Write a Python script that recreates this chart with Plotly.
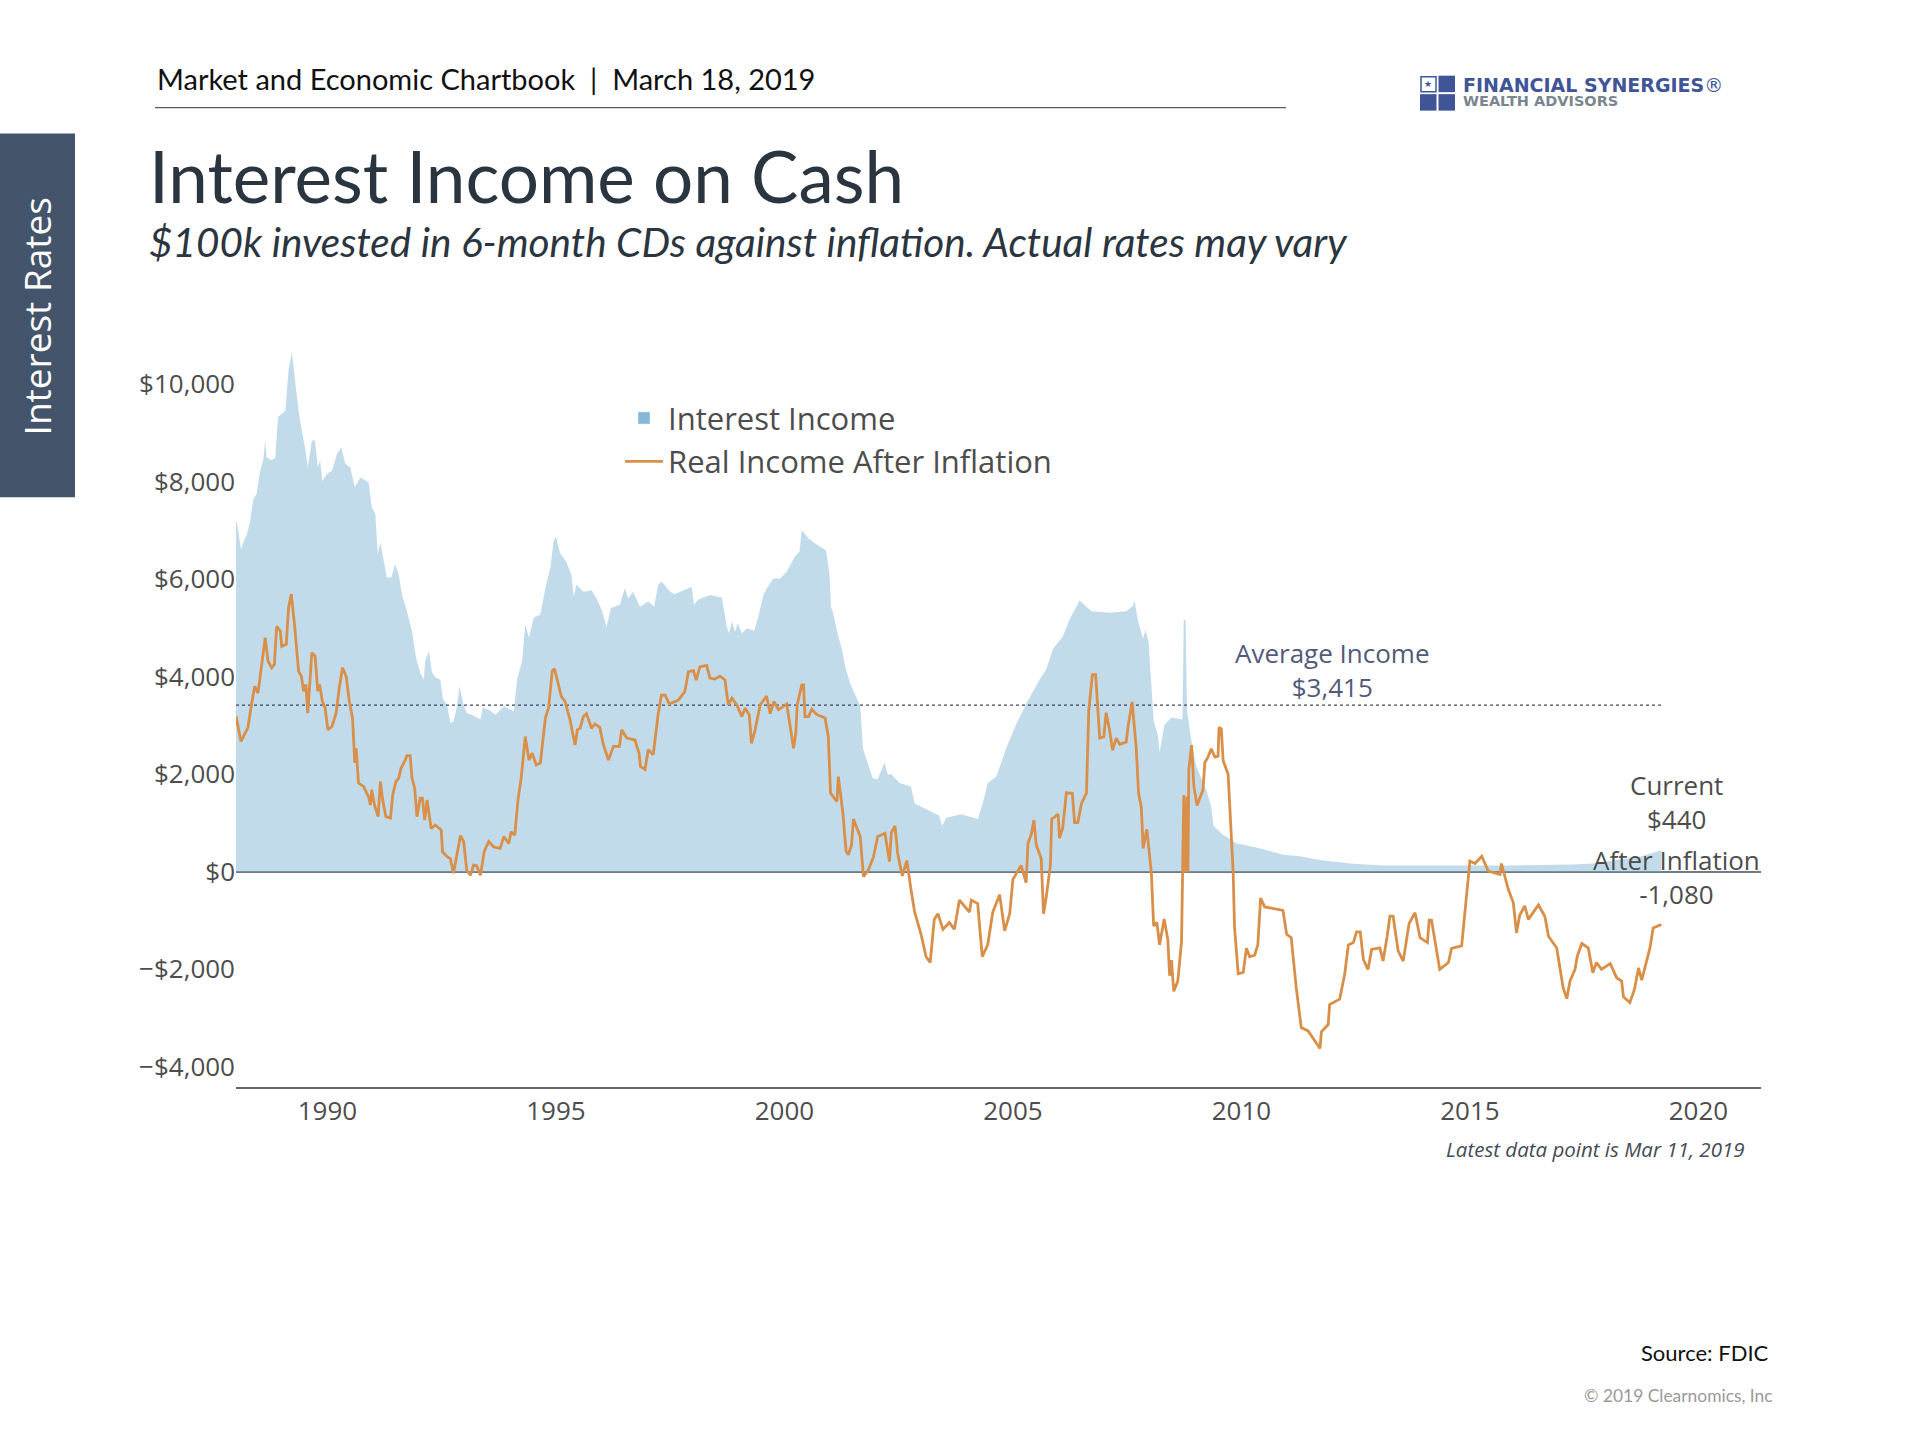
import plotly.graph_objects as go

# ---------- data ----------
income_years = [1988.0,1988.02,1988.11,1988.17,1988.24,1988.31,1988.38,1988.45,1988.53,1988.6,1988.64,1988.67,1988.78,1988.86,1988.92,1989.0,1989.08,1989.15,1989.22,1989.3,1989.37,1989.44,1989.51,1989.57,1989.66,1989.73,1989.79,1989.84,1989.89,1989.99,1990.1,1990.21,1990.3,1990.39,1990.5,1990.6,1990.72,1990.9,1990.97,1991.05,1991.1,1991.16,1991.23,1991.3,1991.4,1991.48,1991.56,1991.63,1991.74,1991.85,1991.94,1992.03,1992.11,1992.14,1992.22,1992.29,1992.38,1992.47,1992.53,1992.62,1992.69,1992.76,1992.84,1992.89,1992.98,1993.05,1993.16,1993.35,1993.4,1993.53,1993.68,1993.86,1994.08,1994.15,1994.26,1994.33,1994.41,1994.52,1994.66,1994.77,1994.88,1994.95,1995.0,
 1995.09,1995.23,1995.34,1995.39,1995.45,1995.6,1995.78,1995.89,1996.0,1996.11,1996.2,1996.4,1996.51,1996.58,1996.69,1996.84,1997.02,1997.15,1997.24,1997.31,1997.5,1997.6,1997.79,1997.97,1998.02,1998.12,1998.37,1998.63,1998.74,1998.79,1998.85,1998.92,1998.98,1999.07,1999.18,1999.34,1999.43,1999.54,1999.65,1999.76,1999.91,2000.05,2000.23,2000.33,2000.38,2000.53,2000.71,2000.91,2000.99,2001.02,2001.07,2001.16,2001.26,2001.33,2001.44,2001.55,2001.66,
 2001.72,2001.86,2001.93,2002.04,2002.19,2002.26,2002.34,2002.52,2002.77,2002.85,2003.18,2003.39,2003.45,2003.54,2003.87,2004.23,2004.34,2004.45,2004.64,2004.85,2005.07,2005.29,2005.58,2005.73,2005.88,2006.09,2006.24,2006.46,2006.72,2007.12,2007.48,2007.63,2007.66,2007.74,2007.85,2007.9,2007.97,2008.03,2008.08,2008.17,2008.21,2008.32,2008.47,2008.71,2008.74,2008.78,2008.81,2008.91,2009.01,2009.23,2009.34,2009.39,2009.6,2009.89,2010.4,2010.91,2011.28,2011.72,2012.37,2013.1,2014.93,2015.95,2017.26,2017.7,2018.28,2018.72,2019.19]
income_values = [7190,7160,6610,6780,6920,7190,7640,7740,8220,8460,8840,8490,8430,8490,9320,9380,9450,10280,10650,10000,9450,9040,8700,8290,8840,8840,8290,8430,8010,8150,8220,8560,8700,8360,8290,7880,8080,7980,7470,7330,6510,6750,6370,6030,6030,6300,6100,5690,5340,4930,4380,4080,3940,4320,4520,4080,3970,3940,3530,3420,3050,3080,3420,3800,3420,3250,3220,3120,3360,3320,3220,3390,3290,3940,4320,5070,4800,5210,5270,5820,6230,6780,6870,
 6530,6350,6080,5640,5880,5740,5770,5600,5370,5020,5400,5470,5810,5600,5740,5430,5540,5430,5880,5950,5740,5690,5770,5840,5470,5580,5670,5620,5020,4890,5130,4920,5090,4890,4990,4940,5230,5670,5860,6010,6010,6150,6460,6560,7000,6830,6700,6590,6050,5430,5300,4890,4550,4200,3860,3620,3390,
 2520,2100,1920,1890,2240,2000,2000,1820,1750,1400,1255,1150,940,1110,1180,1080,1400,1820,1960,2520,3020,3440,3930,4150,4570,4820,5170,5560,5340,5310,5340,5450,5560,5130,4780,4960,4710,3860,3090,2810,2450,3020,3160,3120,5200,5130,3300,2660,2170,1680,1330,940,760,585,480,350,320,240,170,130,130,130,150,170,250,310,440]

real_years = [1988.0,1988.05,1988.11,1988.2,1988.26,1988.35,1988.41,1988.48,1988.55,1988.64,1988.7,1988.78,1988.84,1988.89,1988.97,1989.0,1989.1,1989.15,1989.21,1989.28,1989.37,1989.43,1989.48,1989.53,1989.57,1989.62,1989.66,1989.73,1989.79,1989.83,1989.89,1989.95,1990.01,1990.1,1990.19,1990.26,1990.33,1990.41,1990.48,1990.55,1990.6,1990.63,1990.68,1990.79,1990.9,1990.94,1990.97,1991.03,1991.11,1991.16,1991.21,1991.28,1991.38,1991.43,1991.5,1991.56,1991.61,1991.69,1991.74,1991.81,1991.85,1991.91,1991.96,1992.03,1992.08,1992.13,1992.18,1992.27,1992.36,1992.49,1992.52,1992.62,1992.69,1992.76,1992.84,1992.91,1992.98,1993.05,1993.13,1993.2,1993.27,1993.35,1993.43,1993.53,1993.64,1993.78,1993.86,1993.97,1994.02,1994.1,1994.17,1994.24,1994.33,1994.41,1994.48,1994.57,1994.66,1994.77,1994.84,1994.92,1994.97,
 1995.05,1995.12,1995.2,1995.31,1995.36,1995.42,1995.47,1995.53,1995.6,1995.67,1995.78,1995.85,1995.96,1996.04,1996.15,1996.26,1996.39,1996.44,1996.55,1996.73,1996.82,1996.85,1996.95,1997.02,1997.13,1997.24,1997.31,1997.39,1997.48,1997.68,1997.82,1997.9,1998.01,1998.07,1998.15,1998.3,1998.37,1998.48,1998.59,1998.7,1998.77,1998.85,1998.96,1999.07,1999.14,1999.23,1999.28,1999.36,1999.47,1999.61,1999.69,1999.77,1999.87,2000.05,2000.11,2000.2,2000.25,2000.28,2000.38,2000.42,2000.45,2000.53,2000.6,2000.71,2000.89,2000.96,2001.01,2001.15,2001.18,2001.28,2001.35,2001.4,2001.47,2001.51,2001.66,2001.73,2001.84,2001.95,2002.04,2002.2,2002.3,
 2002.34,2002.42,2002.48,2002.58,2002.68,2002.77,2002.85,2002.99,2003.1,2003.19,2003.28,2003.36,2003.47,2003.61,2003.72,2003.83,2004.05,2004.09,2004.23,2004.28,2004.33,2004.45,2004.56,2004.71,2004.82,2004.93,2005.0,2005.18,2005.29,2005.33,2005.4,2005.46,2005.51,2005.62,2005.67,2005.73,2005.82,2005.85,2005.99,2006.02,2006.09,2006.17,2006.3,2006.35,2006.42,2006.5,2006.61,2006.66,2006.74,2006.81,2006.9,2006.99,2007.04,2007.12,2007.18,2007.26,2007.34,2007.48,2007.52,2007.61,2007.7,2007.75,2007.81,2007.85,2007.93,2008.03,2008.08,2008.15,2008.21,2008.31,2008.39,2008.43,2008.47,2008.52,2008.61,2008.69,2008.74,2008.77,2008.81,2008.83,2008.85,2008.91,2008.96,2009.03,2009.16,2009.2,2009.27,2009.34,2009.42,2009.49,2009.51,2009.56,2009.6,2009.71,2009.77,2009.82,2009.85,2009.93,2010.04,2010.11,2010.18,2010.29,2010.36,2010.42,2010.51,2010.91,2010.99,2011.09,2011.2,2011.31,2011.46,2011.61,2011.72,2011.75,2011.9,2011.93,2012.15,2012.26,2012.34,
 2012.45,2012.52,2012.6,2012.67,2012.77,2012.85,2013.03,2013.1,2013.19,2013.25,2013.32,2013.43,2013.54,2013.61,2013.67,2013.8,2013.91,2014.07,2014.11,2014.16,2014.23,2014.34,2014.53,2014.6,2014.82,2014.91,2015.0,2015.11,2015.26,2015.4,2015.66,2015.69,2015.84,2015.95,2016.02,2016.09,2016.2,2016.28,2016.5,2016.64,2016.72,2016.9,2016.97,2017.04,2017.12,2017.19,2017.3,2017.35,2017.45,2017.59,2017.69,2017.77,2017.88,2018.07,2018.21,2018.32,2018.36,2018.5,2018.6,2018.69,2018.76,2018.87,2018.94,2019.01,2019.19]
real_values = [3185,2910,2670,2840,2950,3490,3800,3660,4180,4800,4320,4180,4250,5030,4930,4620,4660,5410,5690,5070,4110,4010,3700,3840,3250,3970,4490,4420,3700,3840,3490,3360,2910,2980,3250,3770,4180,4010,3490,3150,2230,2530,1820,1750,1540,1370,1680,1370,1130,1850,1470,1130,1100,1580,1850,1920,2120,2260,2380,2380,1920,1710,1130,1510,1510,1060,1470,890,960,860,410,310,270,-30,340,740,620,30,-70,140,120,-70,410,620,510,480,720,580,820,750,1470,1920,2770,2290,2430,2190,2230,3150,3360,4110,4160,
 3830,3590,3490,3110,2870,2600,2910,2940,3180,3240,2940,3030,2960,2600,2290,2570,2570,2910,2740,2700,2430,2160,2100,2500,2400,3250,3620,3620,3440,3520,3690,4100,4120,3930,4200,4230,3970,3950,4010,3930,3420,3560,3420,3180,3350,3220,2630,2910,3420,3600,3240,3490,3320,3440,3080,2530,2840,3420,3830,3830,3180,3180,3330,3220,3150,2770,1610,1440,1950,1200,420,350,550,1080,720,-100,40,310,720,790,210,
 800,940,370,-85,230,-370,-825,-1280,-1740,-1860,-970,-860,-1180,-1040,-1180,-580,-825,-580,-650,-1210,-1740,-1490,-825,-470,-1210,-860,-155,130,-225,585,760,1060,550,270,-860,-510,130,1080,1180,690,900,1620,1610,1010,1010,1400,1610,3300,4040,4040,2740,2770,3260,2880,2490,2740,2610,2660,2980,3480,2520,1610,1325,480,870,-15,-1110,-1035,-1495,-965,-1390,-2130,-1810,-2450,-2235,-1425,1570,-15,1540,-15,2100,2595,1750,1360,1680,2240,2350,2520,2350,2370,2960,2930,2280,2000,900,-15,-1140,-2090,-2060,-1565,-1740,-1710,-1495,-540,-720,-790,-1280,-1350,-2375,-3190,-3260,-3470,-3620,-3280,-3130,-2720,-2610,-2100,-1500,
 -1450,-1230,-1230,-1800,-2000,-1590,-1560,-1830,-1320,-910,-910,-1620,-1830,-1390,-1060,-840,-1350,-1450,-990,-990,-1390,-2000,-1860,-1570,-1520,-635,220,170,320,15,-55,170,-360,-635,-1250,-890,-700,-975,-680,-910,-1320,-1560,-1930,-2375,-2600,-2240,-2000,-1730,-1470,-1560,-2070,-1860,-2000,-1880,-2170,-2240,-2560,-2680,-2410,-1970,-2220,-1830,-1560,-1150,-1080]

average_years = [1988.0, 2019.19]
average_values = [3415, 3415]

series_names = ["Interest Income", "Real Income After Inflation"]
x_tick_start, x_tick_step = 1990, 5
y_tick_step = 2000

# ---------- page geometry (pixels of the 1920x1440 page) ----------
W, H = 1920, 1440
PL, PR, PT, PB = 236, 1761, 334.6, 1087.4


def px(x):
    return (x - PL) / (PR - PL)


def py(y):
    return (PB - y) / (PB - PT)


fig = go.Figure()
# legend-only swatch for the bar-like area
fig.add_trace(go.Bar(x=[None], y=[None], name=series_names[0], marker_color="#85b8d6",
                     legendgroup="a"))
fig.add_trace(go.Scatter(x=income_years, y=income_values, name=series_names[0], mode="lines",
                         line=dict(width=0), fill="tozeroy",
                         fillcolor="rgba(133,184,214,0.5)", showlegend=False,
                         legendgroup="a", hoverinfo="skip"))
fig.add_trace(go.Scatter(x=average_years, y=average_values, mode="lines", showlegend=False,
                         line=dict(color="#3f4468", width=1.2, dash="3px,3px"), name="Average Income"))
fig.add_trace(go.Scatter(x=real_years, y=real_values, name=series_names[1], mode="lines",
                         line=dict(color="#d98f48", width=2.8), legendgroup="b"))

FONT = "Open Sans"
TXT = "#4d4d4d"

annots = [
    dict(xref="paper", yref="paper", x=px(155), y=py(77.5), text="Market and Economic Chartbook&nbsp;&nbsp;|&nbsp;&nbsp;March 18, 2019",
         xanchor="left", yanchor="middle", font=dict(family="Lato", size=29, color="#111111")),
    dict(xref="paper", yref="paper", x=px(146.5), y=py(174.5), text="Interest Income on Cash",
         xanchor="left", yanchor="middle", font=dict(family="Lato", size=71, color="#2b3540")),
    dict(xref="paper", yref="paper", x=px(147), y=py(240.5), text="<i>$100k invested in 6-month CDs against inflation. Actual rates may vary</i>",
         xanchor="left", yanchor="middle", font=dict(family="Lato", size=40.5, color="#2b3540")),
    dict(xref="paper", yref="paper", x=px(36), y=py(316), text="Interest Rates", textangle=-90,
         xanchor="center", yanchor="middle", font=dict(family=FONT, size=37, color="#ffffff")),
    dict(xref="x", yref="y", x=2012.0, y=4135, text="Average Income<br>$3,415", xanchor="center",
         yanchor="middle", font=dict(family=FONT, size=26, color="#53597a")),
    dict(xref="x", yref="y", x=2019.53, y=1430, text="Current<br>$440", xanchor="center",
         yanchor="middle", font=dict(family=FONT, size=26, color=TXT)),
    dict(xref="x", yref="y", x=2019.53, y=-100, text="After Inflation<br>-1,080", xanchor="center",
         yanchor="middle", font=dict(family=FONT, size=26, color=TXT)),
    dict(xref="paper", yref="paper", x=px(1747), y=py(1149), text="<i>Latest data point is Mar 11, 2019</i>",
         xanchor="right", yanchor="middle", font=dict(family=FONT, size=20.5, color="#444b55")),
    dict(xref="paper", yref="paper", x=px(1770.5), y=py(1353), text="Source: FDIC",
         xanchor="right", yanchor="middle", font=dict(family="Lato", size=22, color="#111111")),
    dict(xref="paper", yref="paper", x=px(1774.5), y=py(1396), text="© 2019 Clearnomics, Inc",
         xanchor="right", yanchor="middle", font=dict(family="Lato", size=17.4, color="#999999")),
    dict(xref="paper", yref="paper", x=px(1461), y=py(84), text="<b>FINANCIAL SYNERGIES</b>®",
         xanchor="left", yanchor="middle", font=dict(family="DejaVu Sans", size=19, color="#3f5597")),
    dict(xref="paper", yref="paper", x=px(1461), y=py(100.5), text="<b>WEALTH ADVISORS</b>",
         xanchor="left", yanchor="middle", font=dict(family="DejaVu Sans", size=14.5, color="#7a8590")),
    dict(xref="paper", yref="paper", x=px(1428), y=py(83), text="★",
         xanchor="center", yanchor="middle", font=dict(family="DejaVu Sans", size=9, color="#3f5597")),
]
for a in annots:
    a["showarrow"] = False


def rect(x0, y0, x1, y1, fill, line=None):
    return dict(type="rect", xref="paper", yref="paper", x0=px(x0), x1=px(x1), y0=py(y0), y1=py(y1),
                fillcolor=fill, line=dict(width=1.5 if line else 0, color=line or fill), layer="below")


shapes = [
    rect(0, 133, 75, 497, "#44546a"),
    dict(type="line", xref="paper", yref="paper", x0=px(155), x1=px(1286), y0=py(107), y1=py(107),
         line=dict(color="#555d6b", width=1.3)),
    rect(1421, 76, 1436, 91, "#ffffff", "#3f5597"),
    rect(1438.5, 75, 1455, 91.5, "#3f5597"),
    rect(1420, 93.5, 1436.5, 110, "#3f5597"),
    rect(1438.5, 93.5, 1455, 110, "#3f5597"),
]

fig.update_layout(
    width=W, height=H, autosize=False,
    margin=dict(l=PL, r=W - PR, t=PT, b=H - PB, pad=0),
    paper_bgcolor="#ffffff", plot_bgcolor="#ffffff",
    font=dict(family=FONT, color=TXT, size=26),
    barmode="overlay",
    legend=dict(x=px(620), y=py(391), xanchor="left", yanchor="top", bgcolor="rgba(0,0,0,0)",
                font=dict(family=FONT, size=31, color=TXT), tracegroupgap=4.5, itemwidth=38,
                traceorder="normal"),
    xaxis=dict(range=[1988.0, 2021.37], tick0=x_tick_start, dtick=x_tick_step, tickformat="d",
               showgrid=False, zeroline=False, showline=True, linecolor="#666666", linewidth=1.5,
               ticks="", tickfont=dict(family=FONT, size=26, color=TXT)),
    yaxis=dict(range=[-4410, 11000], tick0=0, dtick=y_tick_step, tickformat="$,d",
               showgrid=False, zeroline=True, zerolinecolor="#6d7b86", zerolinewidth=1.5, showline=False,
               tickfont=dict(family=FONT, size=26, color=TXT)),
    annotations=annots,
    shapes=shapes,
)

fig.write_html("out.html", post_script="document.body.style.margin='0';",
               config={"displayModeBar": False})
